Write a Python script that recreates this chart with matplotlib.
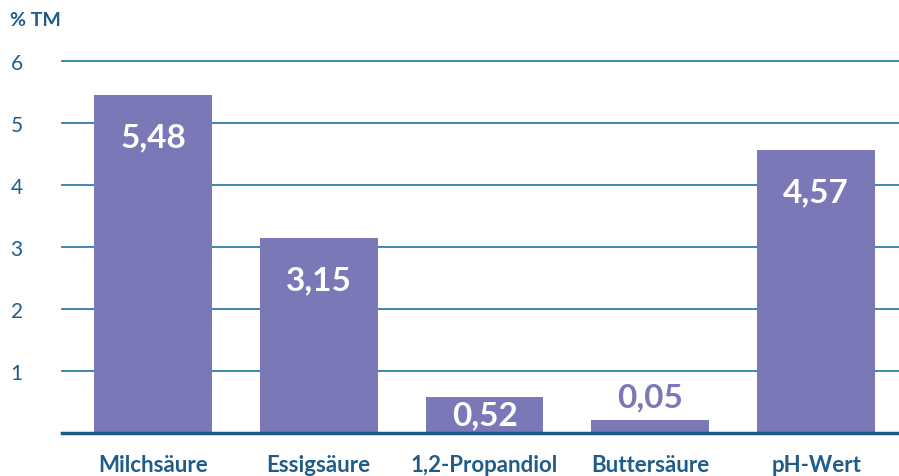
import numpy as np
import matplotlib.pyplot as plt

categories = ["Milchsäure", "Essigsäure", "1,2-Propandiol", "Buttersäure", "pH-Wert"]
values = [5.48, 3.15, 0.52, 0.05, 4.57]
value_labels = ["5,48", "3,15", "0,52", "0,05", "4,57"]
# bar heights as drawn in the picture (small values are shown with a minimum height)
bar_heights = [5.45, 3.15, 0.58, 0.21, 4.57]
yticks = [1, 2, 3, 4, 5, 6]

bar_col = "#7B78B8"
text_col = "#1F5C8A"
grid_col = "#2F7EB0"

plt.rcParams['font.family'] = ['Lato', 'DejaVu Sans']

fig = plt.figure(figsize=(8.99, 4.77), dpi=100)
ax = fig.add_axes([62/899, 1-434/477, 1-62/899, (434-62)/477])

x = np.arange(len(categories))
for t in yticks:
    ax.axhline(t, color=grid_col, lw=1.3, zorder=0, clip_on=False)
ax.bar(x, bar_heights, width=0.71, color=bar_col, zorder=2)
ax.axhline(0, color="#1A5A85", lw=2.5, zorder=3, clip_on=False)

for i, (h, lab) in enumerate(zip(bar_heights, value_labels)):
    if h > 1:
        ax.annotate(lab, (x[i], h), xytext=(0, -30), textcoords="offset points",
                    ha="center", va="center", color="white", fontsize=24, fontweight="bold")
    elif h > 0.4:
        ax.text(x[i], h/2, lab, ha="center", va="center", color="white",
                fontsize=24, fontweight="bold")
    else:
        ax.annotate(lab, (x[i], h), xytext=(0, 17), textcoords="offset points",
                    ha="center", va="center", color=bar_col, fontsize=24, fontweight="bold")

ax.set_xlim(-0.549, 4.5)
ax.set_ylim(0, 6)
ax.set_xticks(x)
ax.set_xticklabels(categories, fontsize=16, fontweight="bold", color=text_col)
ax.set_yticks(yticks)
ax.set_yticklabels([str(t) for t in yticks], fontsize=15, color=text_col, ha="left")
ax.tick_params(axis="y", length=0, pad=37)
ax.tick_params(axis="x", length=0, pad=15)
for s in ax.spines.values():
    s.set_visible(False)

fig.text(10/899, 1-20/477, "% TM", fontsize=14, fontweight="bold", color=text_col,
         ha="left", va="center")

fig.savefig("out.png", dpi=100)
